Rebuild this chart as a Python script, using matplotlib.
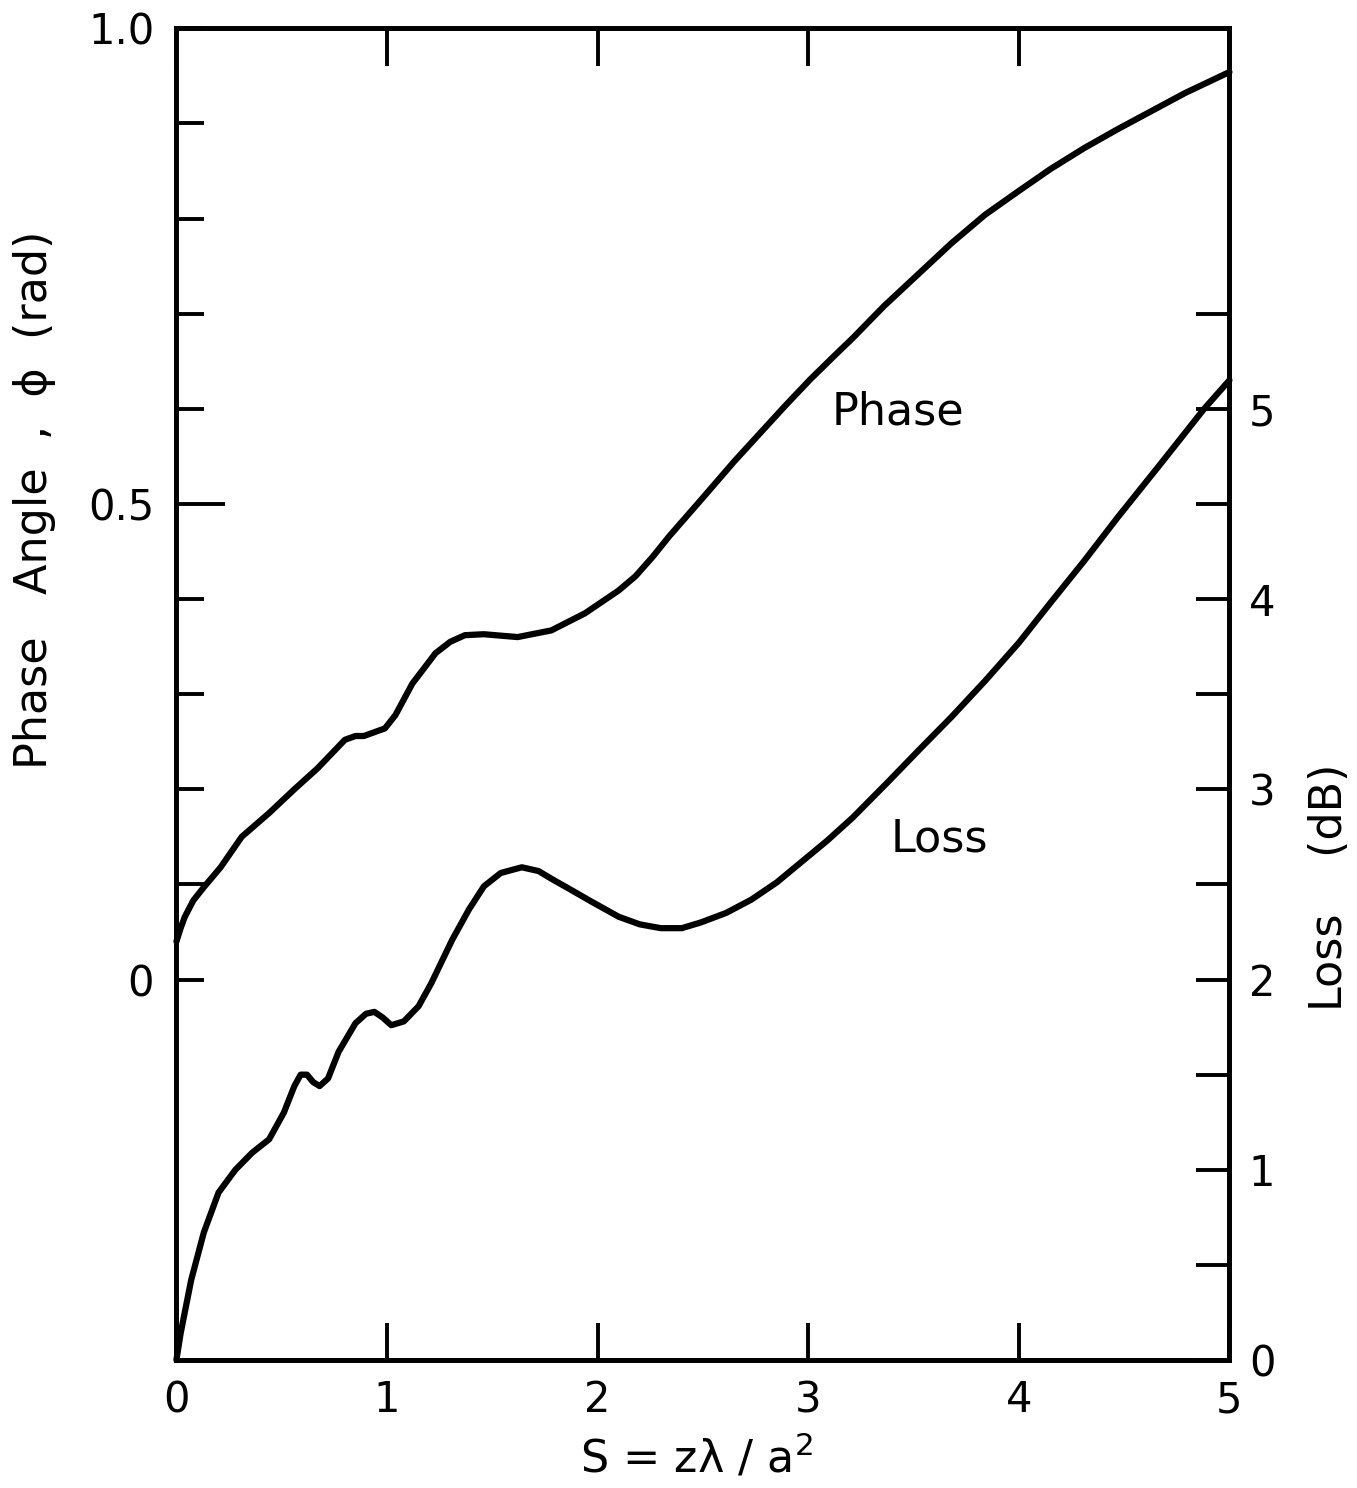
#!/usr/bin/env python3
import numpy as np
import matplotlib.pyplot as plt
from matplotlib.ticker import FixedLocator

# phase curve, left axis (rad)
s_phase = [0.00, 0.02, 0.04, 0.08, 0.13, 0.21, 0.31, 0.44, 0.56, 0.67,
           0.80, 0.85, 0.89, 0.99, 1.04, 1.12, 1.23, 1.30, 1.37, 1.46,
           1.62, 1.78, 1.86, 1.94, 2.02, 2.10, 2.18, 2.26, 2.34, 2.49,
           2.65, 2.77, 2.89, 3.01, 3.13, 3.21, 3.36, 3.52, 3.68, 3.84,
           4.00, 4.15, 4.31, 4.47, 4.63, 4.79, 5.00]
phase = [0.040, 0.054, 0.066, 0.083, 0.097, 0.118, 0.150, 0.175, 0.200, 0.222,
         0.252, 0.256, 0.256, 0.264, 0.278, 0.311, 0.343, 0.355, 0.362, 0.363,
         0.360, 0.367, 0.376, 0.385, 0.397, 0.409, 0.424, 0.444, 0.466, 0.504,
         0.545, 0.574, 0.603, 0.631, 0.657, 0.674, 0.708, 0.741, 0.774, 0.804,
         0.829, 0.852, 0.874, 0.894, 0.913, 0.932, 0.954]

# loss curve, right axis (dB)
s_loss = [0.00, 0.02, 0.07, 0.13, 0.20, 0.28, 0.36, 0.44, 0.51, 0.56,
          0.59, 0.62, 0.65, 0.68, 0.72, 0.77, 0.85, 0.90, 0.94, 0.98,
          1.02, 1.08, 1.15, 1.21, 1.31, 1.39, 1.46, 1.54, 1.64, 1.72,
          1.78, 1.86, 1.97, 2.10, 2.20, 2.30, 2.40, 2.49, 2.61, 2.73,
          2.85, 2.97, 3.09, 3.21, 3.38, 3.52, 3.68, 3.84, 4.00, 4.15,
          4.31, 4.47, 4.68, 4.88, 5.00]
loss = [0.00, 0.14, 0.42, 0.67, 0.88, 1.00, 1.09, 1.16, 1.30, 1.44,
        1.50, 1.50, 1.46, 1.44, 1.48, 1.62, 1.77, 1.82, 1.83, 1.80,
        1.76, 1.78, 1.86, 1.98, 2.21, 2.37, 2.49, 2.56, 2.59, 2.57,
        2.53, 2.48, 2.41, 2.33, 2.29, 2.27, 2.27, 2.30, 2.35, 2.42,
        2.51, 2.62, 2.73, 2.85, 3.04, 3.20, 3.38, 3.57, 3.77, 3.98,
        4.20, 4.43, 4.72, 5.00, 5.15]

x_ticks = [0, 1, 2, 3, 4, 5]
phase_ticks = [0.0, 0.5, 1.0]
phase_tick_labels = ['0', '0.5', '1.0']
phase_minor = [0.1, 0.2, 0.3, 0.4, 0.6, 0.7, 0.8, 0.9]
loss_ticks = [0, 1, 2, 3, 4, 5]
loss_minor = [0.5, 1.5, 2.5, 3.5, 4.5, 5.5]

FS = 30
LFS = 32


def main():
    plt.rcParams['font.family'] = 'DejaVu Sans'
    fig = plt.figure(figsize=(13.57, 14.88), dpi=100)
    ax = fig.add_axes([0.130, 0.086, 0.776, 0.895])
    ax2 = ax.twinx()

    ax.plot(s_phase, phase, color='black', lw=4.5, solid_joinstyle='round',
            solid_capstyle='round', clip_on=False)
    ax2.plot(s_loss, loss, color='black', lw=4.5, solid_joinstyle='round',
             solid_capstyle='round', clip_on=False)

    ax.set_xlim(0, 5)
    ax.set_ylim(-0.4, 1.0)
    ax2.set_ylim(0, 7)

    for a in (ax, ax2):
        for sp in a.spines.values():
            sp.set_linewidth(3.4)

    # x axis: ticks inward top and bottom
    ax.set_xticks(x_ticks)
    ax.set_xticklabels([str(v) for v in x_ticks], fontsize=FS)
    ax.tick_params(axis='x', direction='in', length=27, width=2.8,
                   top=True, pad=14)

    # left axis
    ax.yaxis.set_major_locator(FixedLocator(phase_ticks))
    ax.set_yticklabels(phase_tick_labels, fontsize=FS)
    ax.yaxis.set_minor_locator(FixedLocator(phase_minor))
    ax.tick_params(axis='y', which='major', direction='in', length=20,
                   width=2.8, pad=16)
    ax.tick_params(axis='y', which='minor', direction='in', length=20,
                   width=2.8)
    ax.yaxis.get_major_ticks()[1].tick1line.set_markersize(35)

    # right axis
    ax2.yaxis.set_major_locator(FixedLocator(loss_ticks))
    ax2.set_yticklabels([str(v) for v in loss_ticks], fontsize=FS)
    ax2.yaxis.set_minor_locator(FixedLocator(loss_minor))
    ax2.tick_params(axis='y', which='both', direction='in', length=24,
                    width=2.8, pad=14)

    ax.text(3.11, 0.597, 'Phase', fontsize=LFS, va='center', ha='left')
    ax2.text(3.39, 2.74, 'Loss', fontsize=LFS, va='center', ha='left')

    fig.text(35 / 1357, 1 - 500 / 1488, 'Phase   Angle  ,  \u03d5  (rad)',
             fontsize=LFS, rotation=90, ha='center', va='center')
    fig.text(1330 / 1357, 1 - 887 / 1488, 'Loss    (dB)',
             fontsize=LFS, rotation=90, ha='center', va='center')
    fig.text(697 / 1357, 1 - 1458 / 1488, 'S = z\u03bb / a$^2$',
             fontsize=LFS, ha='center', va='center')

    plt.savefig('out.png', dpi=100)


if __name__ == '__main__':
    main()
